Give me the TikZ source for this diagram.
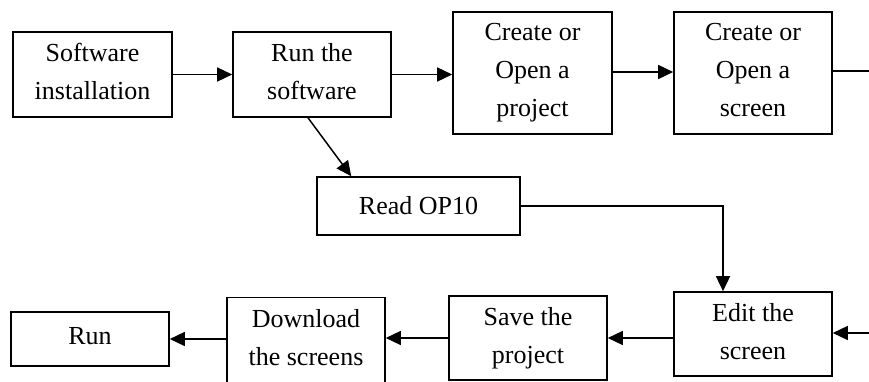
\documentclass[tikz,border=0pt]{standalone}
\usepackage{fontspec}
\setmainfont{Liberation Serif}
\usetikzlibrary{arrows.meta,calc}
\newcommand{\descph}{\vphantom{p}}
\begin{document}
\begin{tikzpicture}[x=1pt,y=-1pt,
  box/.style={draw,line width=1.6pt,align=center,inner sep=0pt,
    font=\fontsize{26}{38}\selectfont},
  conn/.style={line width=1.5pt,-{Triangle[length=15pt,width=14pt]}},
  plain/.style={line width=1.5pt}]
\useasboundingbox (0,0) rectangle (869,382);
\node[box,minimum width=159pt,minimum height=85pt] (b1) at (92.5,74.5) {Software\\installation\descph};
\node[box,minimum width=158pt,minimum height=85pt] (b2) at (312,74.5) {Run the\\software\descph};
\node[box,minimum width=159pt,minimum height=122pt] (b3) at (532.5,73) {Create or\\Open a\\project};
\node[box,minimum width=158pt,minimum height=122pt] (b4) at (753,73) {Create or\\Open a\\screen\descph};
\node[box,minimum width=203pt,minimum height=58pt] (read) at (418.5,206) {Read OP10};
\node[box,minimum width=158pt,minimum height=84pt] (edit) at (753,334) {Edit the\\screen\descph};
\node[box,minimum width=158pt,minimum height=84pt] (save) at (528,338) {Save the\\project};
\node[box,minimum width=158pt,minimum height=85pt] (down) at (306,340) {Download\\the screens\descph};
\node[box,minimum width=158pt,minimum height=54pt] (run) at (90,339) {Run\descph};
\coordinate (out) at (869,71);
\coordinate (in) at (869,333);
\draw[conn] (b1.east) -- (b2.west);
\draw[conn] (b2.east) -- (b2.east -| b3.west);
\draw[conn] ($(b3.east)+(0,-1)$) -- ($(b4.west)+(0,-1)$);
\draw[plain] ($(b4.east)+(0,-2)$) -- (out);
\draw[conn] ($(b2.south)+(-4,0)$) -- ($(read.north west)+(35,0)$);
\draw[conn] (read.east) -| ($(edit.north)+(-30,0)$);
\draw[conn] (in) -- (in -| edit.east);
\draw[conn] (edit.west |- save.east) -- (save.east);
\draw[conn] (save.west) -- (save.west -| down.east);
\draw[conn] (down.west |- run.east) -- (run.east);
\end{tikzpicture}
\end{document}
